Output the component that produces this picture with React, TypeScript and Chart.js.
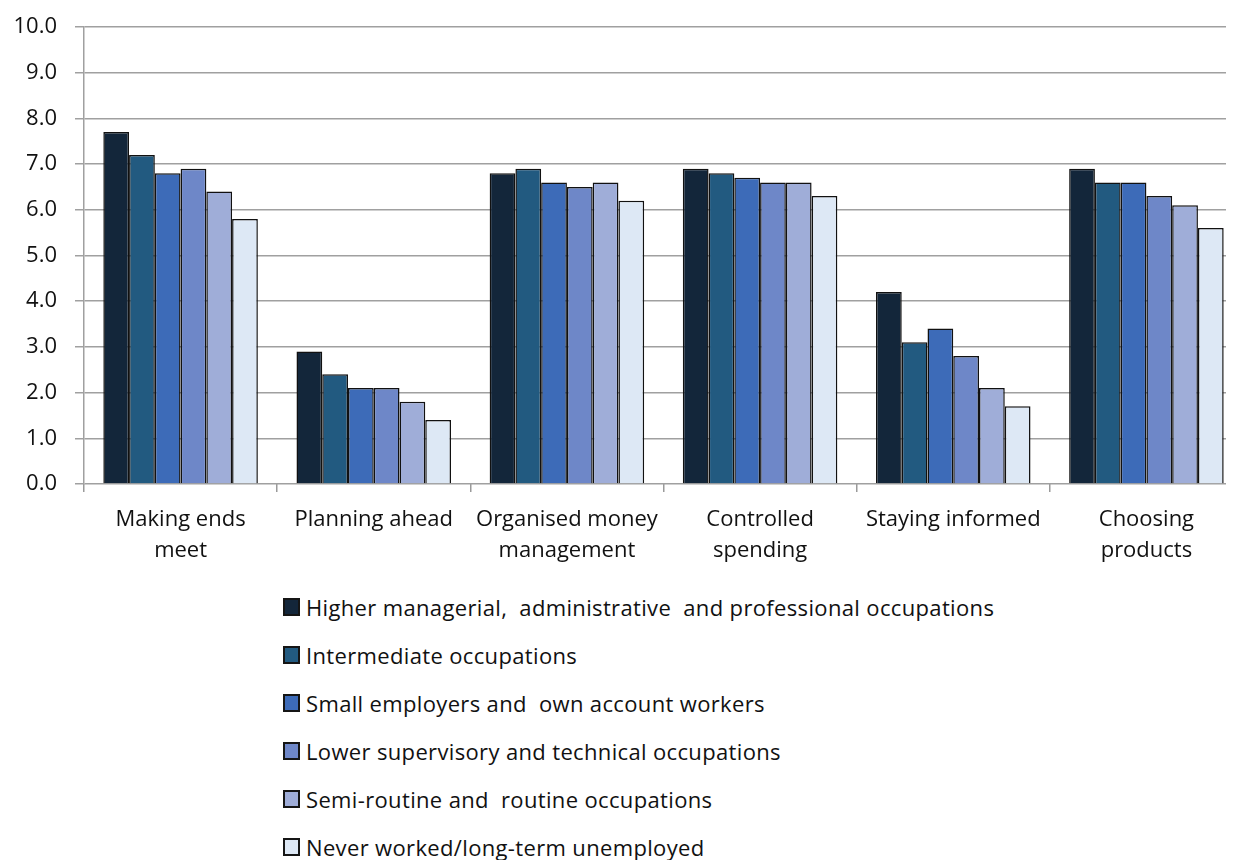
import React, { useEffect, useRef } from 'react';
import { Chart, registerables } from 'chart.js';

Chart.register(...registerables);

const categories: (string | string[])[] = [
  ['Making ends', 'meet'],
  ['Planning ahead'],
  ['Organised money', 'management'],
  ['Controlled', 'spending'],
  ['Staying informed'],
  ['Choosing', 'products'],
];

const seriesLabels = [
  'Higher managerial,  administrative  and professional occupations',
  'Intermediate occupations',
  'Small employers and  own account workers',
  'Lower supervisory and technical occupations',
  'Semi-routine and  routine occupations',
  'Never worked/long-term unemployed',
];

const seriesColors = ['#13263a', '#225a80', '#3d6bb8', '#6e87c8', '#9fadd8', '#dde8f5'];

const higherManagerial = [7.7, 2.9, 6.8, 6.9, 4.2, 6.9];
const intermediate = [7.2, 2.4, 6.9, 6.8, 3.1, 6.6];
const smallEmployers = [6.8, 2.1, 6.6, 6.7, 3.4, 6.6];
const lowerSupervisory = [6.9, 2.1, 6.5, 6.6, 2.8, 6.3];
const semiRoutine = [6.4, 1.8, 6.6, 6.6, 2.1, 6.1];
const neverWorked = [5.8, 1.4, 6.2, 6.3, 1.7, 5.6];

const seriesValues = [higherManagerial, intermediate, smallEmployers, lowerSupervisory, semiRoutine, neverWorked];

const yTicks = [0, 1, 2, 3, 4, 5, 6, 7, 8, 9, 10];

const FONT = '"Open Sans", sans-serif';

export default function App() {
  const canvasRef = useRef<HTMLCanvasElement>(null);

  useEffect(() => {
    document.body.style.overflow = 'hidden';
    const ctx = canvasRef.current;
    if (!ctx) return;
    const chart = new Chart(ctx, {
      type: 'bar',
      data: {
        labels: categories,
        datasets: seriesValues.map((vals, i) => ({
          label: seriesLabels[i],
          data: vals,
          backgroundColor: seriesColors[i],
          borderColor: '#111111',
          borderWidth: 1.5,
          categoryPercentage: 0.8,
          barPercentage: 1.0,
        })),
      },
      options: {
        responsive: false,
        animation: false,
        layout: { padding: { top: 19, right: 10, left: 0, bottom: 6 } },
        plugins: {
          legend: { display: false },
          tooltip: { enabled: false },
        },
        scales: {
          x: {
            grid: {
              offset: true,
              drawOnChartArea: false,
              drawTicks: true,
              tickLength: 8,
              color: '#9a9a9a',
              lineWidth: 1.5,
            },
            border: { display: false },
            ticks: {
              color: '#111111',
              font: { family: FONT, size: 22, lineHeight: '31px' },
              padding: 12,
              maxRotation: 0,
              autoSkip: false,
            },
            afterFit: (scale: any) => {
              scale.height = 90;
            },
          },
          y: {
            min: 0,
            max: 10,
            afterBuildTicks: (scale: any) => {
              scale.ticks = yTicks.map((v) => ({ value: v }));
            },
            grid: {
              color: '#a0a0a0',
              lineWidth: 1.5,
              tickLength: 9,
            },
            border: { display: true, color: '#a0a0a0', width: 1.5 },
            ticks: {
              color: '#111111',
              font: { family: FONT, size: 22 },
              padding: 18,
              callback: (v: any) => Number(v).toFixed(1),
            },
            afterFit: (scale: any) => {
              scale.width = 76;
              scale.paddingTop = 0;
              scale.paddingBottom = 0;
            },
          },
        },
      },
    });
    return () => chart.destroy();
  }, []);

  return (
    <div style={{ position: 'relative', width: 1226, height: 852, overflow: 'hidden' }}>
      <canvas ref={canvasRef} width={1245} height={572} style={{ display: 'block' }} />
      <div
        style={{
          position: 'absolute',
          left: 275,
          top: 575,
          fontFamily: FONT,
          fontSize: 22,
          letterSpacing: '0.35px',
          color: '#111111',
        }}
      >
        {seriesLabels.map((lab, i) => (
          <div key={i} style={{ height: 48, display: 'flex', alignItems: 'center', whiteSpace: 'pre' }}>
            <span
              style={{
                display: 'inline-block',
                width: 13,
                height: 14,
                background: seriesColors[i],
                border: '2px solid #151515',
                marginRight: 6,
              }}
            />
            <span>{lab}</span>
          </div>
        ))}
      </div>
    </div>
  );
}
